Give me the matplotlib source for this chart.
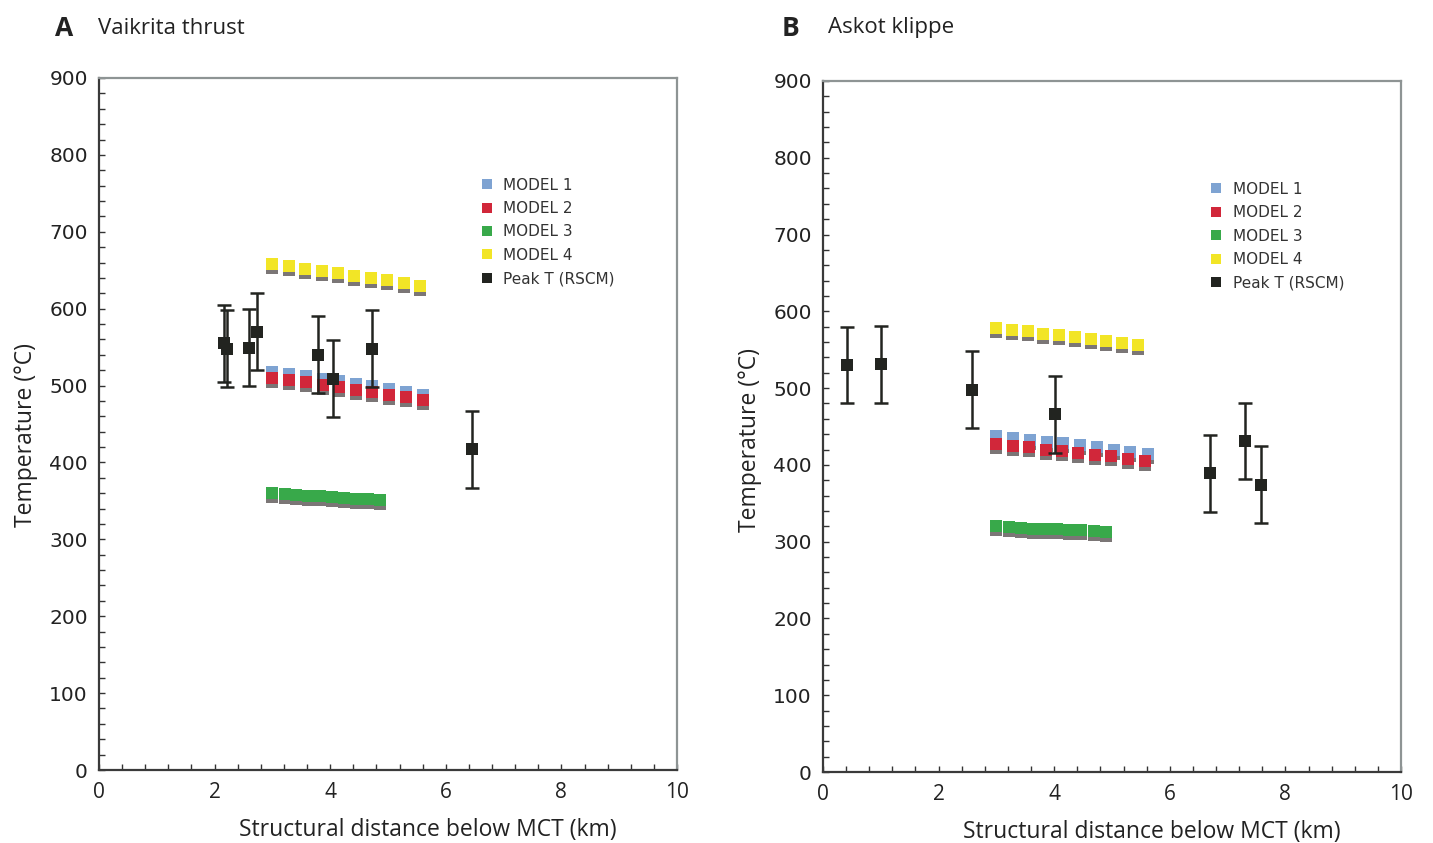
import matplotlib
matplotlib.use("Agg")
import matplotlib.pyplot as plt
from matplotlib.lines import Line2D
from matplotlib.ticker import MultipleLocator
from matplotlib.transforms import offset_copy

plt.rcParams['font.family'] = ['DejaVu Sans']

# ---------------- data: panel A (Vaikrita thrust) ----------------
a_m1_x = [3.0, 3.29, 3.58, 3.87, 4.16, 4.44, 4.73, 5.02, 5.31, 5.6]
a_m1_y = [518, 515, 512, 509, 506, 502, 499, 495, 492, 488]
a_m2_x = [3.0, 3.29, 3.58, 3.87, 4.16, 4.44, 4.73, 5.02, 5.31, 5.6]
a_m2_y = [510, 507, 504, 501, 498, 494, 491, 488, 485, 481]
a_m3_x = [3.0, 3.21, 3.41, 3.62, 3.82, 4.03, 4.24, 4.44, 4.65, 4.86]
a_m3_y = [360, 359, 358, 357, 356, 355, 354, 353, 352, 351]
a_m4_x = [3.0, 3.28, 3.57, 3.85, 4.13, 4.42, 4.7, 4.98, 5.27, 5.55]
a_m4_y = [658, 655, 652, 649, 646, 643, 640, 637, 634, 630]
a_pk_x = [2.17, 2.22, 2.59, 2.74, 3.79, 4.05, 4.72, 6.45]
a_pk_y = [555, 548, 549, 570, 540, 509, 548, 417]
a_pk_err = [50, 50, 50, 50, 50, 50, 50, 50]

# ---------------- data: panel B (Askot klippe) ----------------
b_m1_x = [3.0, 3.29, 3.58, 3.87, 4.16, 4.45, 4.74, 5.03, 5.32, 5.62]
b_m1_y = [437, 435, 433, 430, 428, 426, 423, 420, 417, 414]
b_m2_x = [3.0, 3.28, 3.57, 3.85, 4.14, 4.42, 4.71, 4.99, 5.28, 5.57]
b_m2_y = [427, 425, 423, 420, 418, 416, 413, 411, 408, 405]
b_m3_x = [3.0, 3.21, 3.42, 3.63, 3.84, 4.05, 4.26, 4.47, 4.68, 4.9]
b_m3_y = [320, 319, 318, 317, 317, 316, 315, 315, 314, 313]
b_m4_x = [3.0, 3.27, 3.54, 3.81, 4.08, 4.36, 4.63, 4.9, 5.18, 5.45]
b_m4_y = [578, 576, 574, 571, 569, 567, 564, 562, 559, 556]
b_pk_x = [0.42, 1.0, 2.58, 4.02, 6.7, 7.3, 7.58]
b_pk_y = [530, 531, 498, 466, 389, 431, 374]
b_pk_err = [50, 50, 50, 50, 50, 50, 50]

labels = ["MODEL 1", "MODEL 2", "MODEL 3", "MODEL 4", "Peak T (RSCM)"]
colors = ["#7ea3d2", "#d1273a", "#38a94a", "#f2e526", "#222420"]
shadow = "#7b7676"

fig = plt.figure(figsize=(14.33, 8.43), dpi=100)
axA = fig.add_axes([99/1433, 73/843, 578/1433, 692/843])
axB = fig.add_axes([823/1433, 71/843, 578/1433, 691/843])

def style(ax, ylab_y, xlab_y):
    ax.set_xlim(0, 10)
    ax.set_ylim(0, 900)
    ax.xaxis.set_major_locator(MultipleLocator(2))
    ax.xaxis.set_minor_locator(MultipleLocator(0.4))
    ax.yaxis.set_major_locator(MultipleLocator(100))
    ax.yaxis.set_minor_locator(MultipleLocator(20))
    ax.tick_params(which="both", direction="in", length=4, width=1.0,
                   color="#333333", top=False, right=False)
    ax.tick_params(axis="y", labelsize=14.5, pad=8, labelcolor="#222222")
    ax.tick_params(axis="x", labelsize=15, pad=9, labelcolor="#222222")
    for lab in ax.get_xticklabels():
        lab.set_family("Open Sans")
    for lab in ax.get_yticklabels():
        lab.set_family("DejaVu Sans")
    for s in ["left", "bottom"]:
        ax.spines[s].set_color("#3a3a3a")
        ax.spines[s].set_linewidth(1.6)
    for s in ["top", "right"]:
        ax.spines[s].set_color("#8e9494")
        ax.spines[s].set_linewidth(1.6)
    ax.set_xlabel("Structural distance below MCT (km)", fontsize=16.5,
                  family="Open Sans", color="#222222")
    ax.set_ylabel("Temperature (°C)", fontsize=16.5, family="Open Sans",
                  color="#222222", labelpad=8)
    ax.xaxis.set_label_coords(0.5 + 40/578, xlab_y)
    ax.yaxis.label.set_y(ylab_y)

def models(ax, series):
    for (x, y), c in zip(series, colors[:4]):
        tr = offset_copy(ax.transData, fig=fig, x=0, y=-4, units="dots")
        ax.plot(x, y, "s", color=shadow, ms=8, mew=0, transform=tr, zorder=2)
    for (x, y), c in zip(series, colors[:4]):
        ax.plot(x, y, "s", color=c, ms=8, mew=0, zorder=3)

def peaks(ax, x, y, e):
    ax.errorbar(x, y, yerr=e, fmt="none", ecolor=colors[4], elinewidth=1.8,
                capsize=5, capthick=1.8, zorder=4)
    ax.plot(x, y, "s", color=colors[4], ms=8, mew=0, zorder=5)

def legend(ax, anchor):
    handles = [Line2D([], [], ls="", marker="s", ms=7, mew=0, color=c)
               for c in colors]
    leg = ax.legend(handles, labels, loc="upper left", bbox_to_anchor=anchor,
                    frameon=False, handlelength=0.6,
                    handletextpad=0.8, labelspacing=0.55, borderaxespad=0,
                    prop={"family": "DejaVu Sans", "size": 11})
    for t in leg.get_texts():
        t.set_color("#333333")

style(axA, 0.5 - 11/692, -48/692)
models(axA, [(a_m1_x, a_m1_y), (a_m2_x, a_m2_y), (a_m3_x, a_m3_y), (a_m4_x, a_m4_y)])
peaks(axA, a_pk_x, a_pk_y, a_pk_err)
legend(axA, (0.652, 0.865))

style(axB, 0.5 - 13/691, -48/691)
models(axB, [(b_m1_x, b_m1_y), (b_m2_x, b_m2_y), (b_m3_x, b_m3_y), (b_m4_x, b_m4_y)])
peaks(axB, b_pk_x, b_pk_y, b_pk_err)
legend(axB, (0.661, 0.863))

fig.text(55/1433, 1 - 28/843, "A", fontsize=19, fontweight="bold",
         family="Open Sans", va="center", color="#222222")
fig.text(98/1433, 1 - 28/843, "Vaikrita thrust", fontsize=16,
         family="Open Sans", va="center", color="#222222")
fig.text(782/1433, 1 - 28/843, "B", fontsize=19, fontweight="bold",
         family="Open Sans", va="center", color="#222222")
fig.text(828/1433, 1 - 28/843, "Askot klippe", fontsize=16,
         family="Open Sans", va="center", color="#222222")

fig.savefig("out.png", dpi=100)
